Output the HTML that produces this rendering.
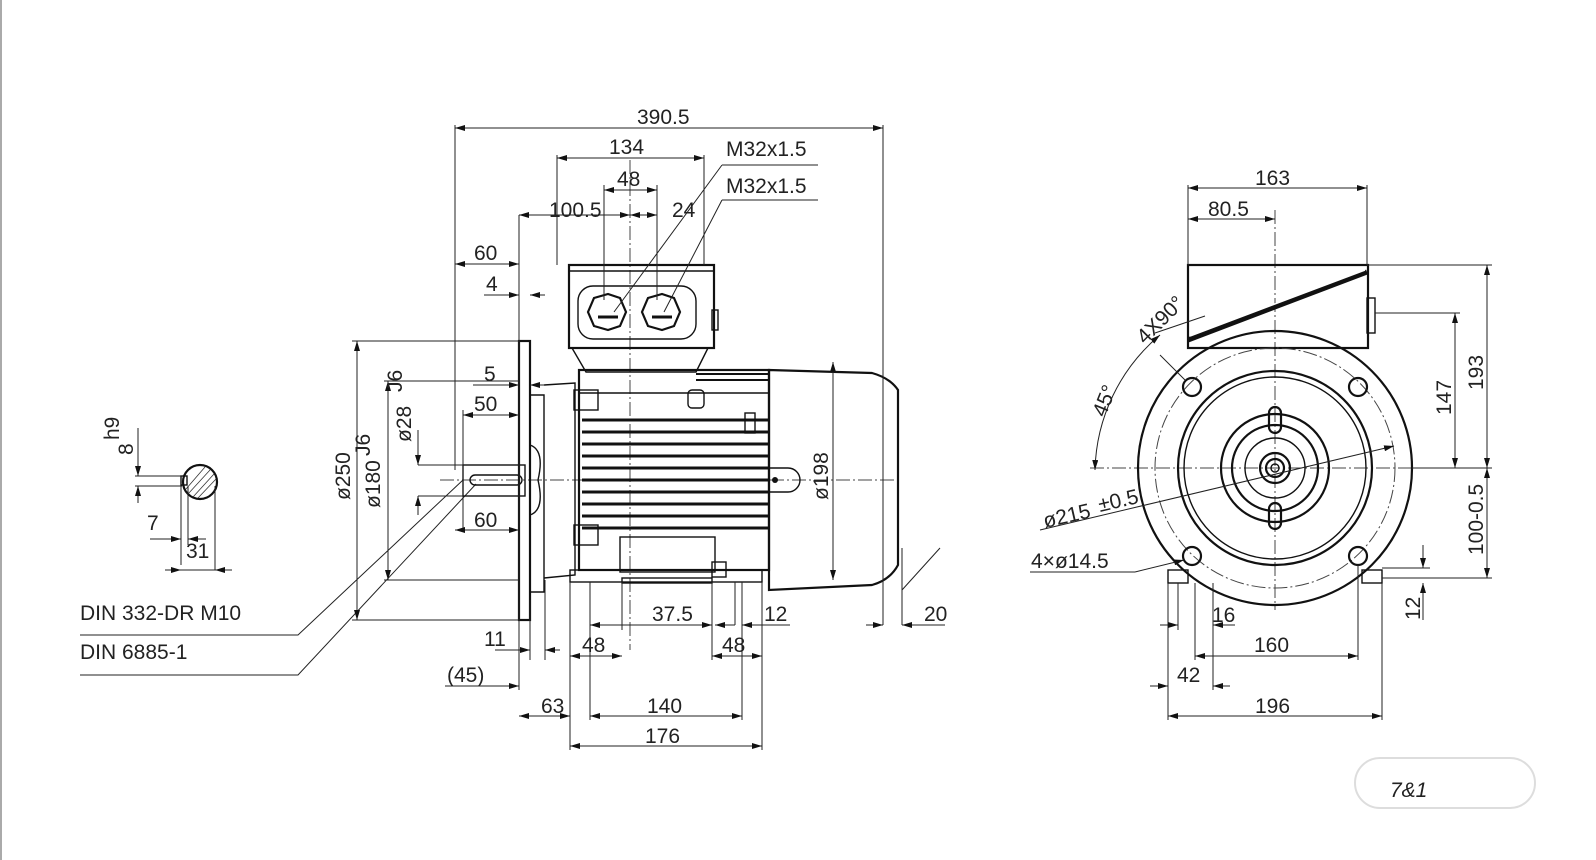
<!DOCTYPE html>
<html><head><meta charset="utf-8"><style>
html,body{margin:0;padding:0;background:#fff;}
svg{display:block;}
text{font-family:"Liberation Sans",sans-serif;font-size:21px;fill:#222;}
.t{stroke:#111;stroke-width:2.2;fill:none}
.m{stroke:#111;stroke-width:1.4;fill:none}
.d{stroke:#222;stroke-width:1;fill:none}
.c{stroke:#444;stroke-width:1;fill:none;stroke-dasharray:14 3 2 3}
</style></head><body>
<svg width="1596" height="860" viewBox="0 0 1596 860" xmlns="http://www.w3.org/2000/svg">
<defs><marker id="a" viewBox="0 0 10 6" refX="10" refY="3" markerWidth="10" markerHeight="6" orient="auto-start-reverse"><path d="M0,0L10,3L0,6z" fill="#111"/></marker></defs>
<line x1="1" y1="0" x2="1" y2="860" stroke="#555"/>

<!-- key section -->
<circle cx="200" cy="482" r="17" class="t"/>
<g stroke="#333" stroke-width="0.8">
<line x1="188" y1="494" x2="210" y2="470"/><line x1="193" y1="497" x2="214" y2="474"/><line x1="198" y1="498" x2="216" y2="479"/><line x1="186" y1="489" x2="205" y2="467"/>
</g>
<rect x="181" y="476" width="6" height="9" class="m"/>
<line x1="135" y1="476" x2="182" y2="476" class="d"/><line x1="135" y1="486" x2="182" y2="486" class="d"/>
<line x1="138" y1="428" x2="138" y2="476" class="d" marker-end="url(#a)"/><line x1="138" y1="503" x2="138" y2="486" class="d" marker-end="url(#a)"/>
<text x="0" y="0" transform="translate(133,455) rotate(-90)">8</text><text x="0" y="0" font-size="11" transform="translate(119,440) rotate(-90)">h9</text>
<line x1="181" y1="486" x2="181" y2="565" class="d"/><line x1="188" y1="486" x2="188" y2="545" class="d"/><line x1="215" y1="486" x2="215" y2="570" class="d"/>
<line x1="150" y1="539" x2="181" y2="539" class="d" marker-end="url(#a)"/><line x1="206" y1="539" x2="188" y2="539" class="d" marker-end="url(#a)"/>
<text x="147" y="530">7</text>
<line x1="165" y1="570" x2="181" y2="570" class="d" marker-end="url(#a)"/><line x1="232" y1="570" x2="215" y2="570" class="d" marker-end="url(#a)"/>
<line x1="181" y1="570" x2="215" y2="570" class="d"/>
<text x="186" y="558">31</text>

<!-- leaders -->
<text x="80" y="620" font-family="Liberation Mono" font-size="21">DIN 332-DR M10</text>
<text x="80" y="659" font-family="Liberation Mono" font-size="21">DIN 6885-1</text>
<polyline points="80,635 298,635 463,480" class="d"/>
<polyline points="80,675 298,675 476,484" class="d"/>

<!-- side view motor -->
<line x1="440" y1="480" x2="900" y2="480" class="c"/>
<line x1="630" y1="160" x2="630" y2="650" class="c"/>
<rect x="463" y="465" width="62" height="31" class="m"/>
<rect x="470" y="475" width="52" height="10" rx="5" class="m"/>
<rect x="519" y="341" width="11" height="279" class="t"/>
<path d="M530,395 L544,395 L544,592 L530,592" class="m"/>
<path d="M530,445 Q545,450 538,480 Q545,510 530,515" class="m"/>
<path d="M544,385 L575,383 L575,575 L544,578" class="m"/>
<rect x="574" y="390" width="24" height="20" class="m"/><rect x="574" y="525" width="24" height="20" class="m"/>
<rect x="579" y="370" width="190" height="200" class="t"/>
<g stroke="#111" stroke-width="3">
<line x1="582" y1="420" x2="768" y2="420"/><line x1="582" y1="432" x2="768" y2="432"/><line x1="582" y1="444" x2="768" y2="444"/><line x1="582" y1="456" x2="768" y2="456"/><line x1="582" y1="468" x2="768" y2="468"/><line x1="582" y1="480" x2="768" y2="480"/><line x1="582" y1="492" x2="768" y2="492"/><line x1="582" y1="504" x2="768" y2="504"/><line x1="582" y1="516" x2="768" y2="516"/><line x1="582" y1="528" x2="768" y2="528"/>
<line x1="696" y1="374" x2="768" y2="374" stroke-width="2"/><line x1="696" y1="380" x2="768" y2="380" stroke-width="2"/>
</g>
<line x1="579" y1="393" x2="768" y2="393" class="m"/>
<rect x="688" y="390" width="16" height="18" rx="4" class="m"/>
<rect x="745" y="413" width="10" height="20" class="m"/>
<path d="M768,468 L788,468 A12,12 0 0 1 788,492 L768,492" class="m"/><circle cx="775" cy="480" r="3" fill="#111"/>
<rect x="620" y="537" width="95" height="35" class="m"/>
<rect x="712" y="562" width="14" height="15" class="m"/>
<path d="M769,370 L872,373 Q890,378 898,390 L898,565 Q890,580 872,585 L769,590 Z" class="t"/>
<rect x="570" y="570" width="192" height="12" class="m"/>
<rect x="622" y="578" width="90" height="5" class="m"/>
<!-- terminal box -->
<rect x="569" y="265" width="145" height="83" class="t"/>
<line x1="569" y1="271" x2="714" y2="271" class="m"/>
<rect x="578" y="286" width="118" height="53" rx="15" class="m"/>
<polygon points="588,312 594,298 608,294 620,298 626,312 620,326 608,330 594,326" class="t"/>
<polygon points="642,312 648,298 662,294 674,298 680,312 674,326 662,330 648,326" class="t"/>
<line x1="598" y1="317" x2="618" y2="317" stroke="#111" stroke-width="3"/><line x1="652" y1="317" x2="672" y2="317" stroke="#111" stroke-width="3"/>
<path d="M572,348 L586,372 L696,372 L708,348" class="m"/>
<rect x="712" y="310" width="6" height="20" class="m"/>

<!-- side dims -->
<g class="d">
<line x1="455" y1="125" x2="455" y2="470"/><line x1="883" y1="125" x2="883" y2="625"/>
<line x1="455" y1="128" x2="883" y2="128" marker-start="url(#a)" marker-end="url(#a)"/>
<line x1="557" y1="155" x2="557" y2="265"/><line x1="704" y1="155" x2="704" y2="265"/>
<line x1="557" y1="158" x2="704" y2="158" marker-start="url(#a)" marker-end="url(#a)"/>
<line x1="604" y1="185" x2="604" y2="300"/><line x1="657" y1="185" x2="657" y2="300"/>
<line x1="604" y1="190" x2="657" y2="190" marker-start="url(#a)" marker-end="url(#a)"/>
<line x1="519" y1="215" x2="630" y2="215" marker-start="url(#a)" marker-end="url(#a)"/>
<line x1="630" y1="215" x2="657" y2="215" marker-start="url(#a)" marker-end="url(#a)"/>
<line x1="519" y1="215" x2="519" y2="690"/>
<line x1="455" y1="264" x2="519" y2="264" marker-start="url(#a)" marker-end="url(#a)"/>
<line x1="484" y1="295" x2="519" y2="295" marker-end="url(#a)"/><line x1="545" y1="295" x2="530" y2="295" marker-end="url(#a)"/>
<line x1="473" y1="385" x2="519" y2="385" marker-end="url(#a)"/><line x1="545" y1="385" x2="530" y2="385" marker-end="url(#a)"/>
<line x1="463" y1="410" x2="463" y2="530"/>
<line x1="463" y1="415" x2="519" y2="415" marker-start="url(#a)" marker-end="url(#a)"/>
<line x1="455" y1="530" x2="519" y2="530" marker-start="url(#a)" marker-end="url(#a)"/>
<line x1="352" y1="341" x2="519" y2="341"/><line x1="352" y1="620" x2="519" y2="620"/>
<line x1="357" y1="341" x2="357" y2="620" marker-start="url(#a)" marker-end="url(#a)"/>
<line x1="384" y1="381" x2="519" y2="381"/><line x1="384" y1="580" x2="519" y2="580"/>
<line x1="388" y1="381" x2="388" y2="580" marker-start="url(#a)" marker-end="url(#a)"/>
<line x1="418" y1="465" x2="463" y2="465"/><line x1="418" y1="496" x2="463" y2="496"/>
<line x1="418" y1="430" x2="418" y2="465" marker-end="url(#a)"/><line x1="418" y1="515" x2="418" y2="496" marker-end="url(#a)"/>
<line x1="833" y1="362" x2="833" y2="580" marker-start="url(#a)" marker-end="url(#a)"/>
<line x1="530" y1="600" x2="530" y2="660"/><line x1="545" y1="580" x2="545" y2="660"/>
<line x1="495" y1="650" x2="530" y2="650" marker-end="url(#a)"/><line x1="560" y1="650" x2="545" y2="650" marker-end="url(#a)"/>
<line x1="445" y1="686" x2="519" y2="686" marker-end="url(#a)"/>
<line x1="570" y1="582" x2="570" y2="750"/><line x1="762" y1="582" x2="762" y2="750"/>
<line x1="590" y1="582" x2="590" y2="720"/><line x1="742" y1="582" x2="742" y2="720"/>
<line x1="622" y1="582" x2="622" y2="630"/><line x1="712" y1="582" x2="712" y2="660"/><line x1="735" y1="582" x2="735" y2="625"/>
<line x1="519" y1="716" x2="570" y2="716" marker-start="url(#a)" marker-end="url(#a)"/>
<line x1="590" y1="716" x2="742" y2="716" marker-start="url(#a)" marker-end="url(#a)"/>
<line x1="570" y1="746" x2="762" y2="746" marker-start="url(#a)" marker-end="url(#a)"/>
<line x1="570" y1="656" x2="622" y2="656" marker-start="url(#a)" marker-end="url(#a)"/>
<line x1="712" y1="656" x2="762" y2="656" marker-start="url(#a)" marker-end="url(#a)"/>
<line x1="590" y1="625" x2="712" y2="625" marker-start="url(#a)" marker-end="url(#a)"/>
<line x1="715" y1="625" x2="735" y2="625" marker-start="url(#a)"/><line x1="742" y1="625" x2="790" y2="625" marker-start="url(#a)"/>
<line x1="866" y1="625" x2="883" y2="625" marker-end="url(#a)"/><line x1="945" y1="625" x2="902" y2="625" marker-end="url(#a)"/>
<line x1="902" y1="548" x2="902" y2="625"/><line x1="902" y1="590" x2="940" y2="548"/>
<line x1="614" y1="312" x2="722" y2="165"/><line x1="722" y1="165" x2="818" y2="165"/>
<line x1="664" y1="312" x2="722" y2="200"/><line x1="722" y1="200" x2="818" y2="200"/>
</g>
<text x="637" y="124">390.5</text>
<text x="609" y="154">134</text>
<text x="617" y="186">48</text>
<text x="549" y="217">100.5</text>
<text x="672" y="217">24</text>
<text x="726" y="156">M32x1.5</text>
<text x="726" y="193">M32x1.5</text>
<text x="474" y="260">60</text>
<text x="486" y="291">4</text>
<text x="484" y="381">5</text>
<text x="474" y="411">50</text>
<text x="474" y="527">60</text>
<text x="484" y="646">11</text>
<text x="447" y="682">(45)</text>
<text x="541" y="713">63</text>
<text x="647" y="713">140</text>
<text x="645" y="743">176</text>
<text x="582" y="652">48</text>
<text x="722" y="652">48</text>
<text x="652" y="621">37.5</text>
<text x="764" y="621">12</text>
<text x="924" y="621">20</text>
<text transform="translate(350,500) rotate(-90)">ø250</text>
<text transform="translate(380,508) rotate(-90)">ø180</text><text transform="translate(370,456) rotate(-90)" font-size="11">J6</text>
<text transform="translate(411,442) rotate(-90)">ø28</text><text transform="translate(402,392) rotate(-90)" font-size="11">J6</text>
<text transform="translate(828,500) rotate(-90)">ø198</text>

<!-- front view -->
<line x1="1090" y1="468" x2="1420" y2="468" class="c"/>
<line x1="1275" y1="210" x2="1275" y2="610" class="c"/>
<rect x="1188" y="265" width="180" height="83" class="t"/>
<line x1="1188" y1="340" x2="1367" y2="272" stroke="#111" stroke-width="5"/>
<line x1="1190" y1="336" x2="1365" y2="270" stroke="#fff" stroke-width="1.5"/>
<rect x="1367" y="298" width="8" height="35" class="m"/>
<circle cx="1275" cy="468" r="137" class="t"/>
<circle cx="1275" cy="468" r="120" class="c"/>
<circle cx="1275" cy="468" r="97" class="t"/>
<circle cx="1275" cy="468" r="91" class="m"/>
<circle cx="1275" cy="468" r="54" class="t"/>
<circle cx="1275" cy="468" r="43" class="t"/>
<circle cx="1275" cy="468" r="30" class="m"/>
<circle cx="1275" cy="468" r="15" class="t"/><circle cx="1275" cy="468" r="9" class="t"/><circle cx="1275" cy="468" r="4" class="m"/>
<rect x="1269" y="407" width="12" height="26" rx="6" fill="#fff" class="t"/>
<rect x="1269" y="503" width="12" height="26" rx="6" fill="#fff" class="t"/>
<circle cx="1192" cy="387" r="9" class="t"/><circle cx="1358" cy="387" r="9" class="t"/>
<circle cx="1192" cy="556" r="9" class="t"/><circle cx="1358" cy="556" r="9" class="t"/>
<rect x="1168" y="570" width="20" height="13" class="m"/><rect x="1362" y="570" width="20" height="13" class="m"/>
<g class="d">
<line x1="1188" y1="185" x2="1188" y2="265"/><line x1="1367" y1="185" x2="1367" y2="265"/>
<line x1="1188" y1="188" x2="1367" y2="188" marker-start="url(#a)" marker-end="url(#a)"/>
<line x1="1188" y1="219" x2="1275" y2="219" marker-start="url(#a)" marker-end="url(#a)"/>
<line x1="1367" y1="265" x2="1492" y2="265"/><line x1="1375" y1="313" x2="1460" y2="313"/>
<line x1="1412" y1="468" x2="1492" y2="468"/><line x1="1382" y1="578" x2="1492" y2="578"/>
<line x1="1455" y1="313" x2="1455" y2="468" marker-start="url(#a)" marker-end="url(#a)"/>
<line x1="1487" y1="265" x2="1487" y2="468" marker-start="url(#a)" marker-end="url(#a)"/>
<line x1="1487" y1="468" x2="1487" y2="578" marker-start="url(#a)" marker-end="url(#a)"/>
<line x1="1382" y1="568" x2="1430" y2="568"/>
<line x1="1423" y1="545" x2="1423" y2="568" marker-end="url(#a)"/><line x1="1423" y1="620" x2="1423" y2="583" marker-end="url(#a)"/>
<line x1="1168" y1="583" x2="1168" y2="720"/><line x1="1382" y1="583" x2="1382" y2="720"/>
<line x1="1178" y1="583" x2="1178" y2="630"/><line x1="1195" y1="583" x2="1195" y2="660"/><line x1="1213" y1="583" x2="1213" y2="690"/><line x1="1358" y1="565" x2="1358" y2="660"/>
<line x1="1168" y1="716" x2="1382" y2="716" marker-start="url(#a)" marker-end="url(#a)"/>
<line x1="1195" y1="656" x2="1358" y2="656" marker-start="url(#a)" marker-end="url(#a)"/>
<line x1="1150" y1="686" x2="1168" y2="686" marker-end="url(#a)"/><line x1="1230" y1="686" x2="1213" y2="686" marker-end="url(#a)"/>
<line x1="1160" y1="625" x2="1178" y2="625" marker-end="url(#a)"/><line x1="1235" y1="625" x2="1213" y2="625" marker-end="url(#a)"/>
<line x1="1030" y1="572" x2="1135" y2="572"/><line x1="1135" y1="572" x2="1184" y2="560" marker-end="url(#a)"/>
<line x1="1040" y1="530" x2="1394" y2="446" marker-end="url(#a)"/>
<line x1="1160" y1="355" x2="1185" y2="380"/>
<path d="M1095,470 A182,182 0 0 1 1160,335" marker-start="url(#a)" marker-end="url(#a)"/>
<line x1="1155" y1="333" x2="1205" y2="316"/>
</g>
<text x="1255" y="185">163</text>
<text x="1208" y="216">80.5</text>
<text transform="translate(1451,415) rotate(-90)">147</text>
<text transform="translate(1483,390) rotate(-90)">193</text>
<text transform="translate(1483,555) rotate(-90)">100</text><text transform="translate(1483,520) rotate(-90)" font-size="11">-0.5</text>
<text transform="translate(1420,620) rotate(-90)">12</text>
<text x="1254" y="652">160</text>
<text x="1255" y="713">196</text>
<text x="1212" y="622">16</text>
<text x="1177" y="682">42</text>
<text x="1031" y="568">4×ø14.5</text>
<text x="1045" y="528" transform="rotate(-13 1045 528)">ø215</text><text x="1100" y="512" font-size="11" transform="rotate(-13 1100 512)">±0.5</text>
<text transform="translate(1105,418) rotate(-68)">45°</text>
<text transform="translate(1145,345) rotate(-45)">4X90°</text>

<!-- watermark -->
<g stroke="#ddd" stroke-width="2" fill="none"><rect x="1355" y="758" width="180" height="50" rx="25"/></g>
<text x="1390" y="797" font-size="34" fill="#e2e2e2" font-style="italic">7&amp;1</text>
</svg>
</body></html>
